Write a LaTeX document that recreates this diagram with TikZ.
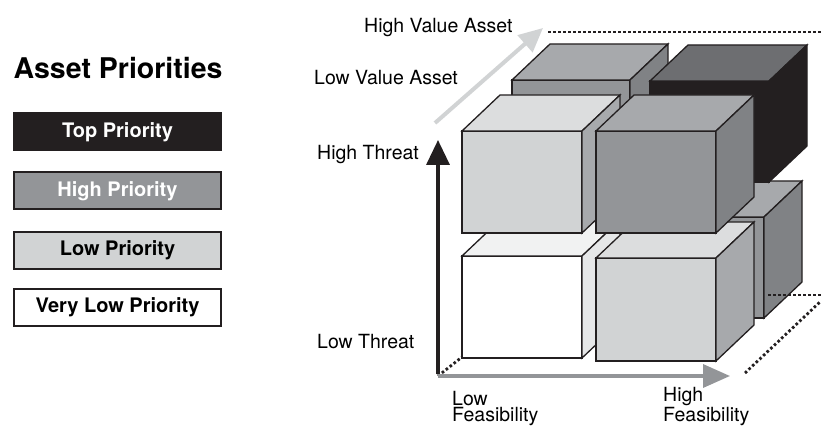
\documentclass[tikz,border=0pt]{standalone}
\usepackage{fontspec}
\setmainfont{TeX Gyre Heros}
\usetikzlibrary{arrows.meta}
\definecolor{noir}{HTML}{231F20}
\definecolor{anthracite}{HTML}{6D6E71}
\definecolor{grisfonce}{HTML}{808285}
\definecolor{grismoyen}{HTML}{939598}
\definecolor{grisacier}{HTML}{A7A9AC}
\definecolor{grisclair}{HTML}{D1D3D4}
\definecolor{grispale}{HTML}{DCDDDE}
\definecolor{grisperle}{HTML}{E6E7E8}
\definecolor{grisblanc}{HTML}{F1F2F2}
% bloc : x, y (coin haut gauche de la face avant), largeur, hauteur, avant, dessus, cote
\newcommand{\bloc}[7]{%
	\filldraw[face,fill=#5] (#1,#2) rectangle ++(#3,#4);
	\filldraw[face,fill=#6] (#1,#2) -- ++(38,-36) -- ++(#3,0) -- ++(-38,36) -- cycle;
	\filldraw[face,fill=#7] (#1+#3,#2) -- ++(38,-36) -- ++(0,#4) -- ++(-38,36) -- cycle;
}
\begin{document}
\begin{tikzpicture}[x=1pt,y=-1pt]
	\tikzstyle{face}=[draw=noir,line width=1.3pt]
	\tikzstyle{pointille}=[noir,line width=2.8pt,dash pattern=on 2.6pt off 2.4pt]
	\tikzset{legende/.style={draw=noir,line width=2pt,minimum width=207pt,minimum height=37pt,inner sep=0pt,font=\fontsize{20}{22}\selectfont\bfseries},
		etiquette/.style={anchor=base west,inner sep=0pt,font=\fontsize{19.5}{16}\selectfont,align=left}}
	\useasboundingbox (0,0) rectangle (821,427);
	% legende
	\node[font=\fontsize{28.5}{30}\selectfont\bfseries] (titre) at (118,68) {Asset Priorities};
	\node[legende,fill=noir,text=white] (top) at (117.5,132) {Top Priority};
	\node[legende,fill=grismoyen,text=white] (high) at (117.5,191) {High Priority};
	\node[legende,fill=grisclair] (low) at (117.5,250.5) {Low Priority};
	\node[legende,fill=white] (vlow) at (117.5,307.5) {Very Low Priority};
	% pointilles
	\coordinate (o) at (438,376);
	\coordinate (o1) at (462,357);
	\coordinate (hv1) at (548,32);
	\coordinate (hv2) at (821,32);
	\coordinate (d1) at (745,373);
	\coordinate (d2) at (821,301);
	\coordinate (f1) at (768,295);
	\coordinate (f2) at (821,295);
	\draw[pointille] (o) -- (o1);
	\draw[pointille] (hv1) -- (hv2);
	\draw[pointille] (d1) -- (d2);
	% blocs arriere
	\bloc{508}{217}{118}{101}{grisclair}{grispale}{grisacier}
	\bloc{646}{217}{118}{101}{grismoyen}{grisacier}{grisfonce}
	\bloc{512}{80}{118}{101}{grismoyen}{grisacier}{grisfonce}
	\bloc{650}{81}{119}{101}{noir}{anthracite}{noir}
	\draw[pointille] (f1) -- (f2);
	% blocs avant
	\bloc{462}{256}{120}{102}{white}{grisblanc}{grisperle}
	\bloc{596}{258}{120}{103}{grisclair}{grispale}{grisacier}
	\bloc{462}{131}{120}{102}{grisclair}{grispale}{grisacier}
	\bloc{596}{131}{120}{102}{grismoyen}{grisacier}{grisfonce}
	% axes
	\coordinate (valeur0) at (435,123);
	\coordinate (valeur) at (543,28);
	\coordinate (faisab) at (730,376);
	\coordinate (menace) at (438,140);
	\draw[grisclair,line width=4pt,-{Triangle[length=24pt,width=22pt]}] (valeur0) -- (valeur);
	\draw[grismoyen,line width=3.5pt,-{Triangle[length=27pt,width=23pt]}] (o) -- (faisab);
	\draw[noir,line width=3.5pt,-{Triangle[length=25pt,width=23pt]}] ([yshift=1.7pt]o) -- (menace);
	% etiquettes
	\node[etiquette] (hva) at (364,33) {High Value Asset};
	\node[etiquette] (lva) at (314,85) {Low Value Asset};
	\node[etiquette] (ht) at (317,160) {High Threat};
	\node[etiquette] (lt) at (317,348) {Low Threat};
	\node[etiquette] (lf) at (452,421) {Low\\Feasibility};
	\node[etiquette] (hf) at (663,421) {High\\Feasibility};
\end{tikzpicture}
\end{document}
